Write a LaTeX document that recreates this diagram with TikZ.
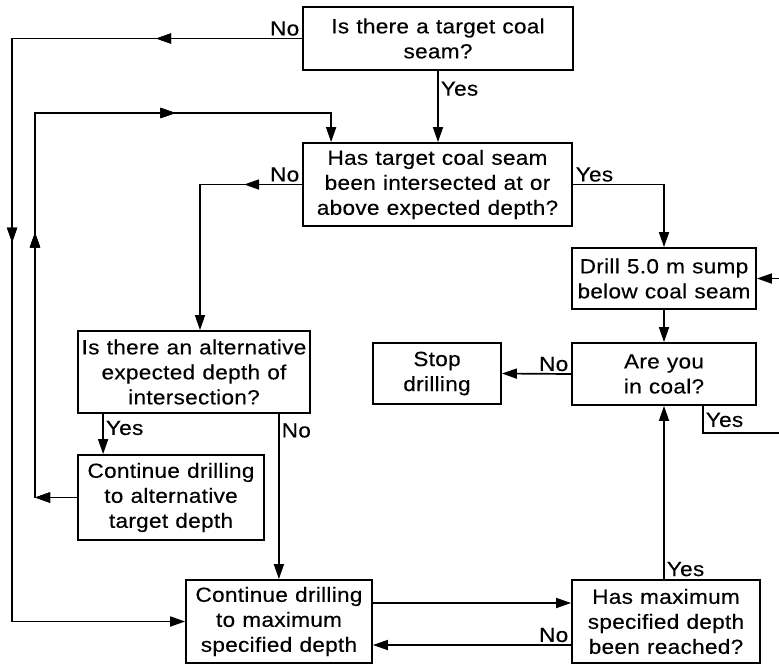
\documentclass[tikz,border=0pt]{standalone}
\usepackage{fontspec}
\setmainfont{Liberation Sans}[FakeStretch=1.1,FakeBold=0.3,LetterSpace=1.5,WordSpace=1.1]
\usetikzlibrary{arrows.meta,decorations.markings}

\tikzset{
  box/.style={draw, line width=1.8pt, inner sep=0pt, align=center,
              font=\fontsize{20.5}{25}\selectfont},
  lbl/.style={font=\fontsize{20.5}{25}\selectfont, inner sep=2pt},
  arrowsat/.style={postaction={decorate},
              decoration={markings, mark=at position #1 with {\arrow{>}}}},
  >={Triangle[length=15pt,width=10pt]}
}

\begin{document}
\begin{tikzpicture}[x=1pt, y=-1pt, line width=1.7pt]
\useasboundingbox (0,0) rectangle (779,665);

% questions and actions
\node [box, minimum width=270pt, minimum height=63pt] (seam) at (438,38.5)
      {Is there a target coal\\seam?};
\node [box, minimum width=269pt, minimum height=83pt] (hit) at (437.5,184.5)
      {Has target coal seam\\been intersected at or\\above expected depth?};
\node [box, minimum width=232pt, minimum height=82pt] (alt) at (194,372)
      {Is there an alternative\\expected depth of\\intersection?};
\node [box, minimum width=186pt, minimum height=85pt] (altdrill) at (171,497.5)
      {Continue drilling\\to alternative\\target depth};
\node [box, minimum width=186pt, minimum height=83pt] (maxdrill) at (279,621.5)
      {Continue drilling\\to maximum\\specified depth};
\node [box, minimum width=188pt, minimum height=83pt] (maxq) at (666,621.5)
      {Has maximum\\specified depth\\been reached?};
\node [box, minimum width=184pt, minimum height=61pt] (sump) at (664,278.5)
      {Drill 5.0 m sump\\below coal seam};
\node [box, minimum width=184pt, minimum height=62pt] (incoal) at (664,374)
      {Are you\\in coal?};
\node [box, minimum width=128pt, minimum height=61pt] (stop) at (437,373.5)
      {Stop\\drilling};

% loop corners and the way out at the right
\coordinate (back) at (35,113);
\coordinate (out) at (779,433);
\coordinate (in) at (779,278.5);

% no target seam
\draw [->, arrowsat=146pt, arrowsat=494pt] (seam.west)
      node [lbl, above left] {No} -- ++(-290,0) |- (maxdrill.west);
\draw [->] (seam.south) -- node [lbl, pos=0.25, right] {Yes} (seam.south |- hit.north);

% seam not reached yet
\draw [->, arrowsat=58pt] (hit.west) node [lbl, above left] {No}
      -| ([xshift=6pt]alt.north);
\draw [->] (hit.east) node [lbl, above right] {Yes} -| (sump.north);

\draw [->] ([xshift=26pt]alt.south west) -- node [lbl, pos=0.35, right] {Yes}
      ([xshift=26pt]altdrill.north west);
\draw [->] ([xshift=-32pt]alt.south east) -- node [lbl, pos=0.1, right] {No}
      ([xshift=-32pt]alt.south east |- maxdrill.north);

\draw [->, arrowsat=42pt, arrowsat=307pt, arrowsat=567pt] (altdrill.west)
      -| (back) -| ([xshift=29pt]hit.north west);

% sump and coal check
\draw [->] (sump.south) -- (incoal.north);
\draw [->] (incoal.west) node [lbl, above left] {No} -- (stop.east);
\draw ([xshift=39pt]incoal.south) node [lbl, below right, yshift=-4pt] {Yes} |- (out);
\draw [->] (in) -- (sump.east);

% maximum depth
\draw [->] ([yshift=18.5pt]maxdrill.east) -- ([yshift=18.5pt]maxdrill.east -| maxq.west);
\draw [->] ([yshift=-23.5pt]maxq.west) node [lbl, above left] {No}
      -- ([yshift=-23.5pt]maxq.west -| maxdrill.east);
\draw [->] (incoal.south |- maxq.north) node [lbl, above right] {Yes} -- (incoal.south);
\end{tikzpicture}
\end{document}
